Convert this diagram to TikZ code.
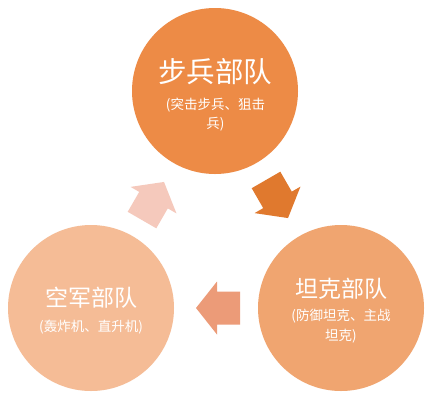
\documentclass[tikz,border=0pt]{standalone}
\usepackage{fontspec}
\newfontfamily\cjk{Noto Sans CJK SC}
\definecolor{ctop}{RGB}{237,139,70}
\definecolor{cright}{RGB}{240,165,112}
\definecolor{cleft}{RGB}{245,188,150}
\definecolor{adark}{RGB}{224,121,46}
\definecolor{amid}{RGB}{236,155,120}
\definecolor{alight}{RGB}{245,201,188}
\tikzset{
  unit/.style={circle, minimum size=166pt, inner sep=0pt},
  title/.style={text=white, font=\cjk\fontsize{23}{27}\selectfont, inner sep=0pt},
  bigtitle/.style={text=white, font=\cjk\fontsize{28.5}{32}\selectfont, inner sep=0pt},
  sub/.style={text=white, font=\cjk\fontsize{13.5}{19}\selectfont, inner sep=0pt, align=center},
  blockarrow/.pic={\fill (-22,-16.5) -- (1,-16.5) -- (1,-26.5) -- (22,0) -- (1,26.5) -- (1,16.5) -- (-22,16.5) -- cycle;}
}
\begin{document}
\begin{tikzpicture}[x=1pt,y=-1pt]
\useasboundingbox (0,0) rectangle (438,400);
\fill[white] (0,0) rectangle (438,400);
% circles
\node[unit, fill=ctop] (inf) at (215,91) {};
\node[unit, fill=cright] (tank) at (341,308) {};
\node[unit, fill=cleft] (air) at (91,308) {};
% arrows
\pic[adark, rotate=-60] (a1) at (277,199) {blockarrow};
\pic[amid, rotate=180] (a2) at (218,308) {blockarrow};
\pic[alight, rotate=60] (a3) at (153,201) {blockarrow};
% texts
\node[bigtitle] (inft) at (215,72) {步兵部队};
\node[sub] (infs) at (215.5,114.5) {(突击步兵、狙击\\兵)};
\node[title] (tankt) at (341,289) {坦克部队};
\node[sub, font=\cjk\fontsize{13.5}{20}\selectfont] (tanks) at (341,326) {(防御坦克、主战\\坦克)};
\node[title] (airt) at (91,298) {空军部队};
\node[sub] (airs) at (91,327) {(轰炸机、直升机)};
\end{tikzpicture}
\end{document}
